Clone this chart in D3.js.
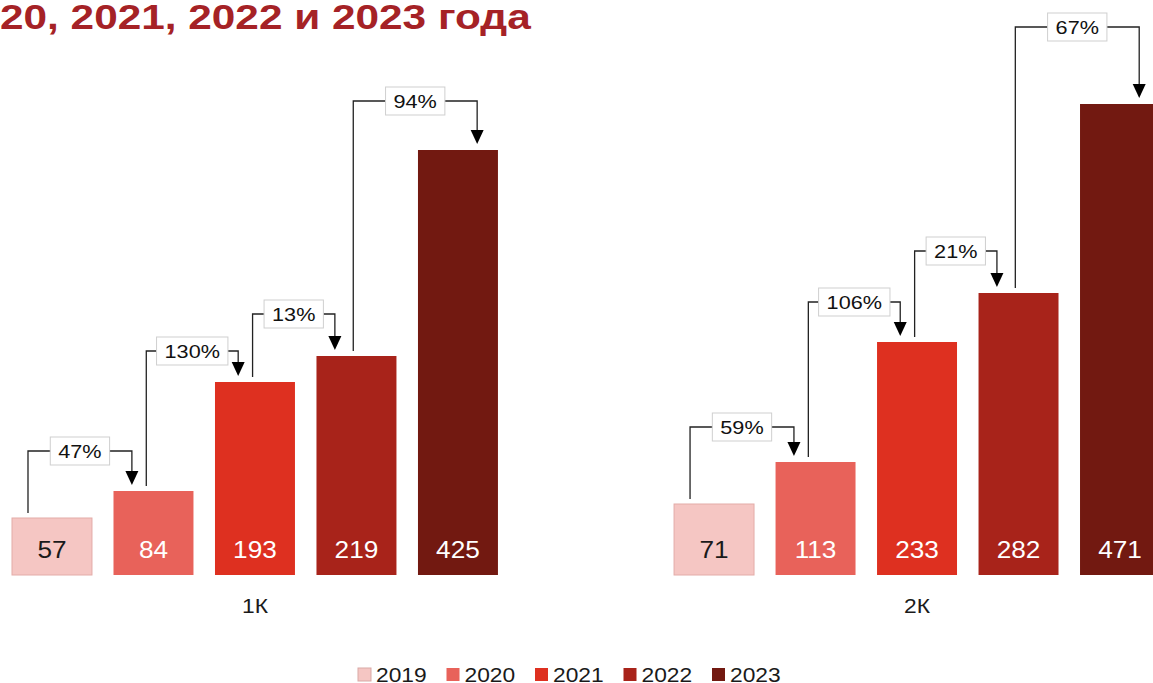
<!DOCTYPE html>
<html>
<head>
<meta charset="utf-8">
<script src="https://cdn.jsdelivr.net/npm/d3@7"></script>
<style>
  html, body { margin: 0; padding: 0; background: #fff; overflow: hidden; }
  svg { display: block; font-family: "Liberation Sans", Arial, sans-serif; }
</style>
</head>
<body>
<svg width="1153" height="683"></svg>
<script>
const categories = ["1К", "2К"];
const years = ["2019", "2020", "2021", "2022", "2023"];
const values1K = [57, 84, 193, 219, 425];
const values2K = [71, 113, 233, 282, 471];
const growth1K = ["47%", "130%", "13%", "94%"];
const growth2K = ["59%", "106%", "21%", "67%"];
const titleText = "20, 2021, 2022 и 2023 года";

const colors = ["#f5c6c3", "#e8625a", "#de3020", "#a8231a", "#721911"];

const svg = d3.select("svg");
const width = +svg.attr("width");
const height = +svg.attr("height");

// the source slide text is a bit wider than the font, so stretch it
const stretch = 1.14;
function place(sel, x, y) {
  return sel.attr("transform", `translate(${x},${y}) scale(${stretch},1)`);
}

const groups = categories.map((c, i) => ({
  cat: c,
  values: i === 0 ? values1K : values2K,
  growth: i === 0 ? growth1K : growth2K
}));

const x0 = d3.scaleBand()
  .domain(categories)
  .range([12, 1160])
  .paddingInner(0.266);

const x1 = d3.scaleBand()
  .domain(years)
  .range([0, x0.bandwidth()])
  .paddingInner(0.212);

const y = d3.scaleLinear()
  .domain([0, 471])
  .range([575, 104]);

// connector layout (fractions of bar width, gaps in px)
const fromOff = [0.2, 0.41, 0.47, 0.46];
const toOff = [0.23, 0.29, 0.23, 0.74];
const levelGap = [[40, 31, 42, 49], [35, 40, 42, 77]];

svg.append("text")
  .attr("transform", "translate(0,29) scale(1.21,1)")
  .attr("fill", "#a52226")
  .attr("font-size", 35)
  .attr("font-weight", "bold")
  .text(titleText);

const g = svg.selectAll("g.group")
  .data(groups)
  .enter().append("g")
  .attr("class", "group")
  .attr("transform", d => `translate(${x0(d.cat)},0)`);

g.selectAll("rect")
  .data(d => d.values.map((v, i) => ({ year: years[i], v, i })))
  .enter().append("rect")
  .attr("x", d => x1(d.year))
  .attr("y", d => y(d.v))
  .attr("width", x1.bandwidth())
  .attr("height", d => y(0) - y(d.v))
  .attr("fill", d => colors[d.i])
  .attr("stroke", d => d.i === 0 ? "#e3aca8" : "none")
  .attr("stroke-width", 1);

g.selectAll("text.val")
  .data(d => d.values.map((v, i) => ({ year: years[i], v, i })))
  .enter().append("text")
  .attr("class", "val")
  .attr("transform", d => `translate(${x1(d.year) + x1.bandwidth() / 2},558) scale(${stretch},1)`)
  .attr("text-anchor", "middle")
  .attr("font-size", 23)
  .attr("fill", d => d.i === 0 ? "#1a1a1a" : "#fff")
  .text(d => d.v);

g.append("text")
  .attr("transform", `translate(${x0.bandwidth() / 2},613) scale(${stretch},1)`)
  .attr("text-anchor", "middle")
  .attr("font-size", 20)
  .attr("fill", "#1a1a1a")
  .text(d => d.cat);

// growth connectors
g.each(function(d, gi) {
  const sel = d3.select(this);
  const bw = x1.bandwidth();
  d.growth.forEach((label, i) => {
    const xa = x1(years[i]) + bw * fromOff[i];
    const xb = x1(years[i + 1]) + bw * toOff[i];
    const yStart = y(d.values[i]) - 5;
    const yNext = y(d.values[i + 1]);
    const level = yNext - levelGap[gi][i];
    const tip = yNext - 6;

    sel.append("path")
      .attr("d", `M${xa},${yStart}V${level}H${xb}V${tip - 12}`)
      .attr("fill", "none")
      .attr("stroke", "#222")
      .attr("stroke-width", 1.3);

    sel.append("path")
      .attr("d", `M${xb - 6.5},${tip - 14}L${xb + 6.5},${tip - 14}L${xb},${tip}Z`)
      .attr("fill", "#000");

    const lbl = sel.append("g");
    const t = place(lbl.append("text"), (xa + xb) / 2, level + 7)
      .attr("text-anchor", "middle")
      .attr("font-size", 19)
      .attr("fill", "#111")
      .text(label);
    const w = t.node().getComputedTextLength() * stretch + 16;
    lbl.insert("rect", "text")
      .attr("x", (xa + xb) / 2 - w / 2)
      .attr("y", level - 14)
      .attr("width", w)
      .attr("height", 28)
      .attr("fill", "#fff")
      .attr("stroke", "#cfcfcf")
      .attr("stroke-width", 1);
  });
});

// legend
const lx = d3.scalePoint()
  .domain(years)
  .range([358, 712]);

const leg = svg.selectAll("g.leg")
  .data(years)
  .enter().append("g")
  .attr("class", "leg")
  .attr("transform", d => `translate(${lx(d)},668)`);

leg.append("rect")
  .attr("width", 13)
  .attr("height", 13)
  .attr("fill", (d, i) => colors[i])
  .attr("stroke", (d, i) => i === 0 ? "#d9a9a6" : "none");

place(leg.append("text"), 18, 13.5)
  .attr("font-size", 20)
  .attr("fill", "#1a1a1a")
  .text(d => d);
</script>
</body>
</html>
